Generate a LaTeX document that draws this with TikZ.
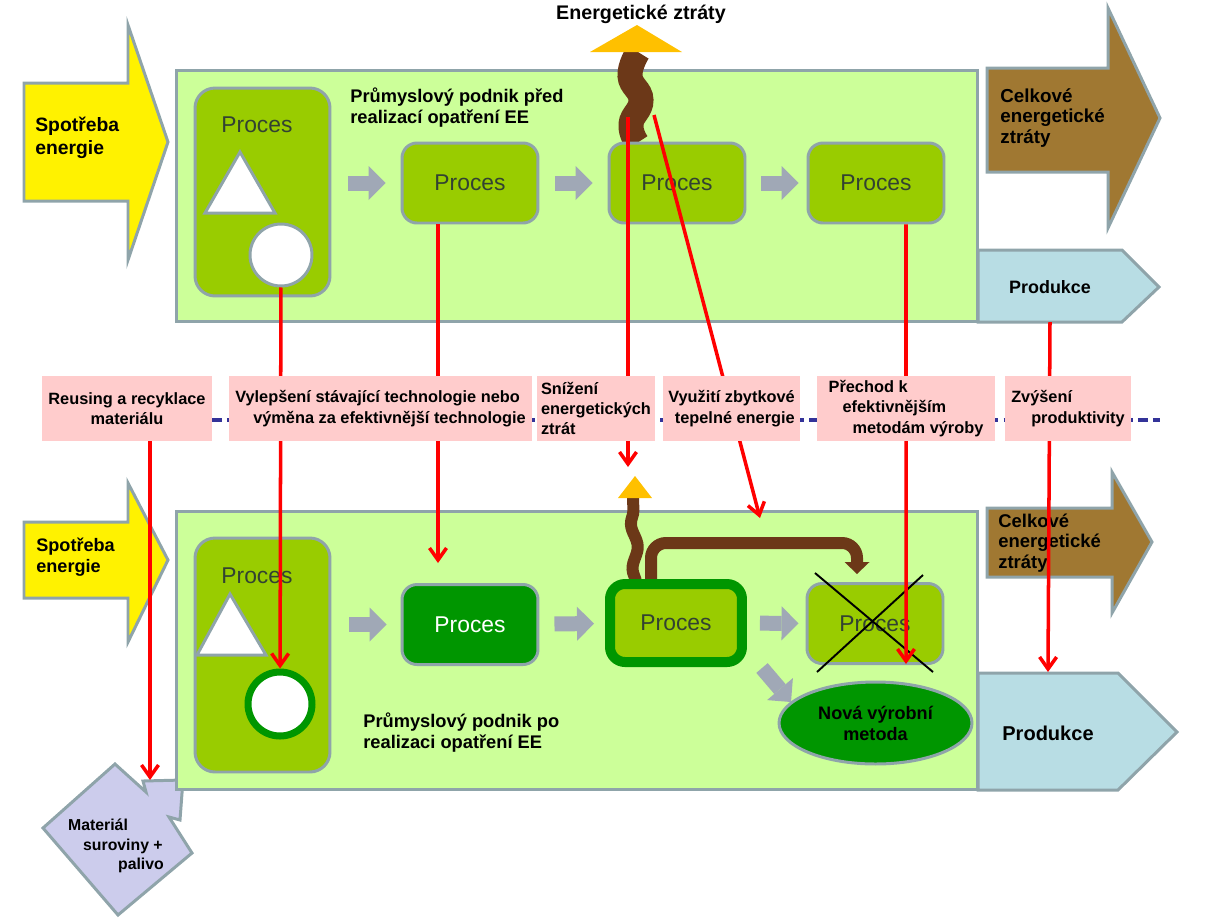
\documentclass[tikz,border=0pt]{standalone}
\usepackage{fontspec}
\setmainfont{Liberation Sans}
\usetikzlibrary{arrows.meta}
\usetikzlibrary{shapes.geometric}
\usetikzlibrary{decorations.pathmorphing}

\definecolor{panelgreen}{RGB}{204,255,153}
\definecolor{procgreen}{RGB}{153,204,0}
\definecolor{deepgreen}{RGB}{0,150,0}
\definecolor{edgegrey}{RGB}{143,164,170}
\definecolor{flowgrey}{RGB}{160,168,182}
\definecolor{lossbrown}{RGB}{160,120,50}
\definecolor{pipebrown}{RGB}{108,56,24}
\definecolor{flameorange}{RGB}{255,192,0}
\definecolor{prodblue}{RGB}{184,221,228}
\definecolor{notepink}{RGB}{255,204,204}
\definecolor{matlilac}{RGB}{204,204,236}
\definecolor{dashnavy}{RGB}{51,51,153}
\definecolor{proctext}{RGB}{50,66,50}

\begin{document}
\begin{tikzpicture}[x=0.02cm,y=-0.02cm,
  greyline/.style={draw=edgegrey,line width=1.7pt},
  procbox/.style={greyline,fill=procgreen,rounded corners=0.3cm,minimum width=2.72cm,minimum height=1.6cm,text=proctext,font=\fontsize{13}{15}\selectfont},
  proclbl/.style={text=proctext,font=\fontsize{13}{15}\selectfont},
  txt/.style={inner sep=0pt,align=left},
  notebox/.style={fill=notepink,minimum height=1.3cm,inner sep=0pt,font=\fontsize{9.3}{11.6}\selectfont\bfseries},
  gflow/.style={draw=flowgrey,line width=0.3cm,-{Triangle[length=0.34cm,width=0.68cm,line width=0pt]}},
  redflow/.style={draw=red,line width=2pt,-{Straight Barb[length=0.24cm,width=0.34cm]}},
  pipe/.style={draw=pipebrown,line width=0.24cm},
  wave/.style={draw=pipebrown,decorate,decoration={snake,amplitude=#1,segment length=0.9cm}}
]
\useasboundingbox (0,0) rectangle (1214,921);

% arrows round the plant
\draw[greyline,fill=yellow] (24,83) -- (128,83) -- (128,25) -- (168,142) -- (128,260) -- (128,201) -- (24,201) -- cycle;
\draw[greyline,fill=yellow] (24,522) -- (128,522) -- (128,483) -- (168,560) -- (128,642) -- (128,598) -- (24,598) -- cycle;
\draw[greyline,fill=lossbrown] (987,68) -- (1108,68) -- (1108,8) -- (1160,118) -- (1108,228) -- (1108,172) -- (987,172) -- cycle;
\draw[greyline,fill=lossbrown] (987,508) -- (1112,508) -- (1112,472) -- (1152,542) -- (1112,613) -- (1112,577) -- (987,577) -- cycle;
\draw[greyline,fill=prodblue] (978,250) -- (1122,250) -- (1159,287) -- (1122,322) -- (978,322) -- cycle;
\draw[greyline,fill=prodblue] (978,673) -- (1118,673) -- (1177,732) -- (1118,790) -- (978,790) -- cycle;
\draw[greyline,fill=matlilac] (43,828) -- (115,764) -- (146,792) -- (143,781) -- (183,780) -- (180,820) -- (169,817) -- (192,853) -- (118,915) -- cycle;

\node[greyline,fill=panelgreen,minimum width=16.04cm,minimum height=5.04cm] (panTop) at (577,196) {};
\node[greyline,fill=panelgreen,minimum width=16.04cm,minimum height=5.58cm] (panBot) at (577,650.5) {};

% before
\draw[pipebrown,line width=0.5cm] plot[smooth,tension=0.8] coordinates {(637,143) (631,124) (641,100) (630,76) (638,52)};
\fill[flameorange] (590,52) -- (637,25) -- (682,52) -- cycle;

\node[procbox,minimum width=2.7cm,minimum height=4.16cm,rounded corners=0.4cm] (t1) at (262.5,192) {};
\node[proclbl] (t1lbl) at (257,125) {Proces};
\draw[greyline,fill=white] (240,152) -- (275,213) -- (205,213) -- cycle;
\node[circle,greyline,fill=white,minimum size=1.24cm,inner sep=0pt] (c1) at (281,255) {};
\node[procbox] (t2) at (470,183) {Proces};
\node[procbox] (t3) at (677,183) {Proces};
\node[procbox] (t4) at (876,183) {Proces};

\draw[gflow,shorten <=0.34cm,shorten >=0.3cm] (t1.east |- t2.west) -- (t2.west);
\draw[gflow,shorten <=0.32cm,shorten >=0.3cm] (t2) -- (t3);
\draw[gflow,shorten <=0.3cm,shorten >=0.16cm] (t3) -- (t4);

% after
\draw[wave=0.06cm,line width=0.24cm] (636,583) -- (633,498);
\fill[flameorange] (618,498) -- (635,476) -- (652,498) -- cycle;
\coordinate (pipeA) at (651,584);
\coordinate (pipeB) at (857,574);
\draw[pipe,rounded corners=0.3cm,-{Triangle[length=0.24cm,width=0.5cm,line width=0pt]}] (pipeA) -- (651,543) -- (857,543) -- (pipeB);

\node[procbox,minimum width=2.7cm,minimum height=4.68cm,rounded corners=0.4cm] (b1) at (262.5,655) {};
\node[proclbl] (b1lbl) at (257,576) {Proces};
\draw[greyline,fill=white] (230,594) -- (266,655) -- (197,655) -- cycle;
\node[circle,draw=deepgreen,line width=0.14cm,fill=white,minimum size=1.28cm,inner sep=0pt] (c2) at (280,704) {};
\node[procbox,fill=deepgreen,text=white] (b2) at (470,624.5) {Proces};
\node[procbox,draw=deepgreen,line width=0.2cm,minimum width=2.64cm,minimum height=1.56cm] (b3) at (676,623) {Proces};
\node[procbox] (b4) at (875,623.5) {Proces};
\draw[line width=1.1pt] (815,573) -- (933,672) (923,575) -- (817,672);
\node[ellipse,greyline,fill=deepgreen,minimum width=3.86cm,minimum height=1.64cm,align=center,font=\fontsize{10.3}{12}\selectfont\bfseries] (newm) at (875.5,723) {Nová výrobní\\metoda};

\draw[gflow,shorten <=0.36cm,shorten >=0.28cm] (b1.east |- b2.west) -- (b2.west);
\draw[gflow,shorten <=0.3cm,shorten >=0.22cm] (b2) -- (b3);
\draw[gflow,shorten <=0.26cm,shorten >=0.14cm] (b3) -- (b4);
\coordinate (dgA) at (762,668);
\coordinate (dgB) at (791,702);
\draw[gflow] (dgA) -- (dgB);

% texts
\node[txt,anchor=west,font=\fontsize{11}{13}\selectfont\bfseries] (useTop) at (35,138) {Spotřeba\\energie};
\node[txt,anchor=west,font=\fontsize{10.3}{12}\selectfont\bfseries] (useBot) at (36,557) {Spotřeba\\energie};
\node[txt,anchor=west,font=\fontsize{10.7}{11.7}\selectfont\bfseries] (lossTop) at (1000,118) {Celkové\\energetické\\ztráty};
\node[txt,anchor=west,font=\fontsize{10.5}{11.8}\selectfont\bfseries] (lossBot) at (998,543) {Celkové\\energetické\\ztráty};
\node[font=\fontsize{10.2}{12}\selectfont\bfseries] (prodTop) at (1050,287) {Produkce};
\node[font=\fontsize{11.4}{13}\selectfont\bfseries] (prodBot) at (1048,733) {Produkce};
\node[font=\fontsize{11.2}{13}\selectfont\bfseries] (heatOut) at (641,14) {Energetické ztráty};
\node[txt,anchor=west,font=\fontsize{10.4}{12}\selectfont\bfseries] (titleTop) at (350,107.5) {Průmyslový podnik před\\realizací opatření EE};
\node[txt,anchor=west,font=\fontsize{10.4}{12}\selectfont\bfseries] (titleBot) at (363,733) {Průmyslový podnik po\\realizaci opatření EE};
\node[txt,font=\fontsize{9}{11}\selectfont\bfseries] (matTxt) at (116,846) {Materiál\\\hspace*{0.3cm}suroviny +\\\hspace*{1cm}palivo};

% improvement steps
\coordinate (lossA) at (628,117);
\coordinate (lossB) at (628,467);
\coordinate (heatA) at (654,115);
\coordinate (heatB) at (760,518);
\coordinate (metB) at (906,664);
\coordinate (prodA) at (1050,322);
\coordinate (prodB) at (1048,672);
\coordinate (reuseA) at (150,441);
\coordinate (matB) at (150,780);
\draw[redflow] (c1) -- (c2);
\draw[redflow,shorten >=0.4cm] ([xshift=-0.64cm]t2.south) -- ([xshift=-0.64cm]b2.north);
\draw[redflow] (lossA) -- (lossB);
\draw[redflow] (heatA) -- (heatB);
\draw[redflow] ([xshift=0.6cm]t4.south) -- (metB);
\draw[redflow] (prodA) -- (prodB);
\draw[redflow] (reuseA) -- (matB);

\draw[dashnavy,line width=2.2pt,dash pattern=on 5.5pt off 3pt] (212,420) -- (1160,420);
\node[notebox,minimum width=3.42cm,align=center] (lreuse) at (127,408.5) {Reusing a recyklace\\materiálu};
\node[notebox,minimum width=6.06cm,align=left] (ltech) at (380.5,408.5) {Vylepšení stávající technologie nebo\\\hspace*{0.36cm}výměna za efektivnější technologie};
\node[notebox,minimum width=2.36cm,align=left] (lloss) at (596,408.5) {Snížení\\energetických\\ztrát};
\node[notebox,minimum width=2.74cm,align=right] (lheat) at (731.5,408.5) {Využití zbytkové\\tepelné energie};
\node[notebox,minimum width=3.56cm,align=left] (lmethod) at (906,408.5) {Přechod k\\\hspace*{0.28cm}efektivnějším\\\hspace*{0.48cm}metodám výroby};
\node[notebox,minimum width=2.52cm,align=left] (lprod) at (1068,408.5) {Zvýšení\\\hspace*{0.4cm}produktivity};
\end{tikzpicture}
\end{document}
